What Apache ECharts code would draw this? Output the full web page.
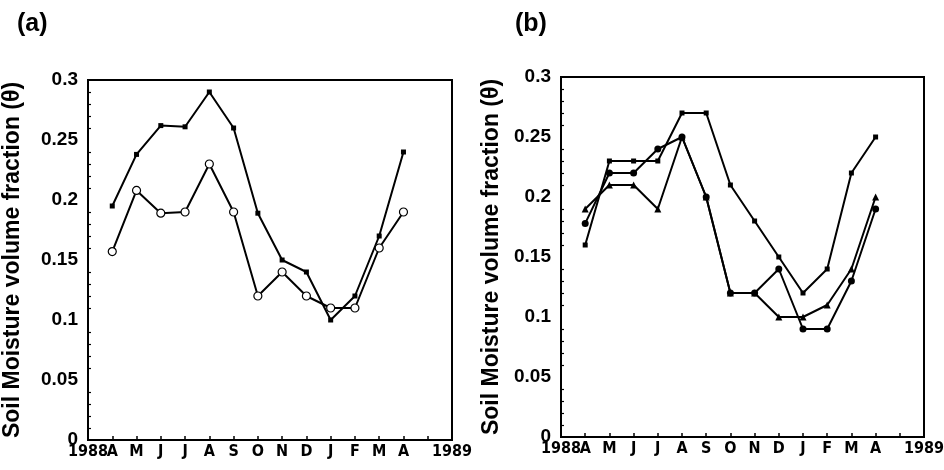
<!DOCTYPE html>
<html><head><meta charset="utf-8">
<script src="https://cdn.jsdelivr.net/npm/echarts@6/dist/echarts.min.js"></script>
<style>html,body{margin:0;padding:0;background:#fff}#c{width:944px;height:470px}</style>
</head><body><div id="c"></div>
<script>
var tickLabels = ['1988','A','M','J','J','A','S','O','N','D','J','F','M','A','','1989'];
var months = ['A','M','J','J','A','S','O','N','D','J','F','M','A'];
var yTicks = [0, 0.05, 0.1, 0.15, 0.2, 0.25, 0.3];
// Panel (a)
var aSquares = [0.195,0.238,0.262,0.261,0.290,0.260,0.189,0.150,0.140,0.100,0.120,0.170,0.240];
var aCircles = [0.157,0.208,0.189,0.190,0.230,0.190,0.120,0.140,0.120,0.110,0.110,0.160,0.190];
// Panel (b)
var bSquares = [0.160,0.230,0.230,0.230,0.270,0.270,0.210,0.180,0.150,0.120,0.140,0.220,0.250];
var bCircles = [0.178,0.220,0.220,0.240,0.250,0.200,0.120,0.120,0.140,0.090,0.090,0.130,0.190];
var bTriangles = [0.190,0.210,0.210,0.190,0.250,0.200,0.120,0.120,0.100,0.100,0.110,0.140,0.200];

function pts(arr){ return arr.map(function(v,i){ return [i+1, v]; }); }

var FONT = 'Liberation Sans, Arial, sans-serif';
var NARROW = 'Liberation Sans Narrow, DejaVu Sans Condensed, Arial, sans-serif';

function xAx(gi){
  return {
    type:'category', gridIndex:gi, data:tickLabels, boundaryGap:false,
    axisLine:{lineStyle:{color:'#000',width:2}},
    axisTick:{inside:true,length:4,interval:0,lineStyle:{color:'#000',width:1.5}},
    axisLabel:{interval:0,color:'#000',fontFamily:NARROW,fontWeight:'bold',fontSize:16,margin:4},
    splitLine:{show:false}
  };
}
function yAx(gi, gap){
  return {
    type:'value', gridIndex:gi, min:0, max:0.3, interval:0.05,
    name:'Soil Moisture volume fraction (\u03b8)', nameLocation:'middle', nameGap:gap,
    nameTextStyle:{color:'#000',fontFamily:FONT,fontWeight:'bold',fontSize:23},
    axisLine:{show:true,lineStyle:{color:'#000',width:2}},
    axisTick:{inside:true,length:5,lineStyle:{color:'#000',width:1.5}},
    minorTick:{show:true,splitNumber:5,length:3,lineStyle:{color:'#000',width:1.2}},
    axisLabel:{color:'#000',fontFamily:FONT,fontWeight:'bold',fontSize:19,margin:10,
      formatter:function(v){ var s=String(+v.toFixed(2)); return yTicks.indexOf(+s)>=0 ? s : ''; }},
    splitLine:{show:false}
  };
}
function ser(gi, data, symbol, size, filled){
  return {
    type:'line', xAxisIndex:gi, yAxisIndex:gi, data:pts(data),
    symbol:symbol, symbolSize:size, showSymbol:true,
    lineStyle:{color:'#000',width:2},
    itemStyle:{color: filled ? '#000' : '#fff', borderColor:'#000', borderWidth: filled ? 0 : 1.2},
    z: filled ? 2 : 3, animation:false
  };
}

var chart = echarts.init(document.getElementById('c'), null, {renderer:'canvas'});
chart.setOption({
  backgroundColor:'#fff',
  animation:false,
  title:[
    {text:'(a)', left:12, top:7, textStyle:{fontFamily:FONT,fontWeight:'bold',fontSize:25,color:'#000'}},
    {text:'(b)', left:510, top:7, textStyle:{fontFamily:FONT,fontWeight:'bold',fontSize:25,color:'#000'}}
  ],
  grid:[
    {left:88, right:492, top:80, bottom:30, show:true, borderColor:'#000', borderWidth:2, backgroundColor:'transparent', containLabel:false, outerBoundsMode:'none'},
    {left:561, right:20, top:77, bottom:33, show:true, borderColor:'#000', borderWidth:2, backgroundColor:'transparent', containLabel:false, outerBoundsMode:'none'}
  ],
  xAxis:[xAx(0), xAx(1)],
  yAxis:[yAx(0, 64), yAx(1, 58)],
  series:[
    ser(0, aSquares, 'rect', 5, true),
    ser(0, aCircles, 'circle', 8, false),
    ser(1, bSquares, 'rect', 5, true),
    ser(1, bCircles, 'circle', 7, true),
    ser(1, bTriangles, 'triangle', 7, true)
  ]
});
</script></body></html>
